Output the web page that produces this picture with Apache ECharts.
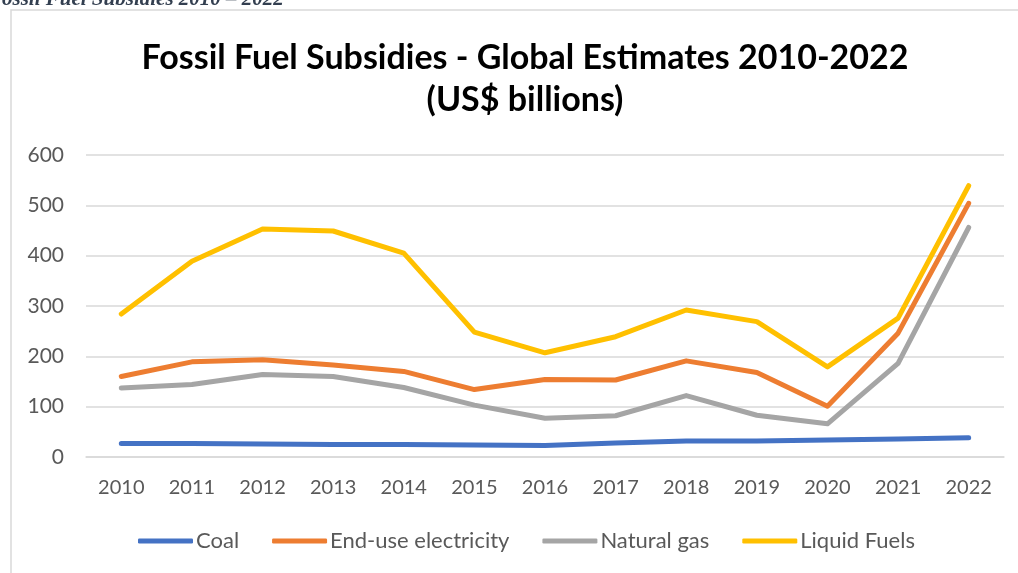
<!DOCTYPE html>
<html>
<head>
<meta charset="utf-8">
<script src="https://cdn.jsdelivr.net/npm/echarts@6/dist/echarts.min.js"></script>
<style>
  html, body { margin: 0; padding: 0; background: #ffffff; }
  #chart { width: 1018px; height: 573px; }
</style>
</head>
<body>
<div id="chart"></div>
<script>
// Global fossil fuel subsidy estimates by product, US$ billions
const years = ['2010', '2011', '2012', '2013', '2014', '2015', '2016', '2017', '2018', '2019', '2020', '2021', '2022'];
const coal = [27, 27, 26, 25, 25, 24, 23, 28, 32, 32, 34, 36, 38];
const electricity = [160, 189, 193, 183, 170, 134, 154, 153, 191, 168, 101, 246, 504];
const naturalGas = [137, 144, 164, 160, 138, 103, 77, 82, 122, 83, 66, 186, 456];
const liquidFuels = [284, 389, 453, 449, 405, 248, 207, 239, 292, 269, 179, 276, 539];
const yTicks = { min: 0, max: 600, interval: 100 };

const seriesDefs = [
  { name: 'Coal', data: coal, color: '#4472C4' },
  { name: 'End-use electricity', data: electricity, color: '#ED7D31' },
  { name: 'Natural gas', data: naturalGas, color: '#A5A5A5' },
  { name: 'Liquid Fuels', data: liquidFuels, color: '#FFC000' }
];

const FONT = 'Lato, "Open Sans", sans-serif';
const chart = echarts.init(document.getElementById('chart'), null, { renderer: 'canvas' });

chart.setOption({
  animation: false,
  backgroundColor: '#ffffff',
  graphic: [
    {
      type: 'rect',
      shape: { x: 11, y: 10, width: 1100, height: 700 },
      style: { fill: 'none', stroke: '#d9d9d9', lineWidth: 1.5 },
      silent: true
    },
    {
      type: 'text',
      style: {
        x: -12, y: 10,
        text: 'Fossil Fuel Subsidies 2010 – 2022',
        font: 'italic bold 21px "Liberation Serif", "Times New Roman", serif',
        fill: '#333F50',
        verticalAlign: 'bottom'
      },
      silent: true
    }
  ],
  title: {
    text: 'Fossil Fuel Subsidies - Global Estimates 2010-2022\n(US$ billions)',
    left: 520,
    top: 32,
    textAlign: 'center',
    textStyle: {
      fontFamily: FONT,
      fontWeight: 'bold',
      fontSize: 34,
      lineHeight: 42,
      color: '#000000'
    }
  },
  legend: {
    top: 524,
    left: 133,
    itemGap: 33,
    itemWidth: 55,
    itemHeight: 5,
    icon: 'roundRect',
    textStyle: { fontFamily: FONT, fontSize: 22, lineHeight: 24, color: '#595959', padding: [0, 0, 0, -2] },
    data: seriesDefs.map(s => s.name)
  },
  grid: { left: 86, right: 14, top: 155, bottom: 116 },
  xAxis: {
    type: 'category',
    data: years,
    boundaryGap: true,
    axisLine: { show: true, lineStyle: { color: '#d9d9d9', width: 1.5 } },
    axisTick: { show: false },
    axisLabel: { fontFamily: FONT, fontSize: 20, color: '#595959', margin: 21 }
  },
  yAxis: {
    type: 'value',
    min: yTicks.min,
    max: yTicks.max,
    interval: yTicks.interval,
    axisLine: { show: false },
    axisTick: { show: false },
    splitLine: { lineStyle: { color: '#d9d9d9', width: 1.5 } },
    axisLabel: { fontFamily: FONT, fontSize: 21, color: '#595959', margin: 22 }
  },
  series: seriesDefs.map(s => ({
    name: s.name,
    type: 'line',
    data: s.data,
    symbol: 'none',
    color: s.color,
    lineStyle: { color: s.color, width: 5, cap: 'round', join: 'round' },
    itemStyle: { color: s.color }
  }))
});
</script>
</body>
</html>
